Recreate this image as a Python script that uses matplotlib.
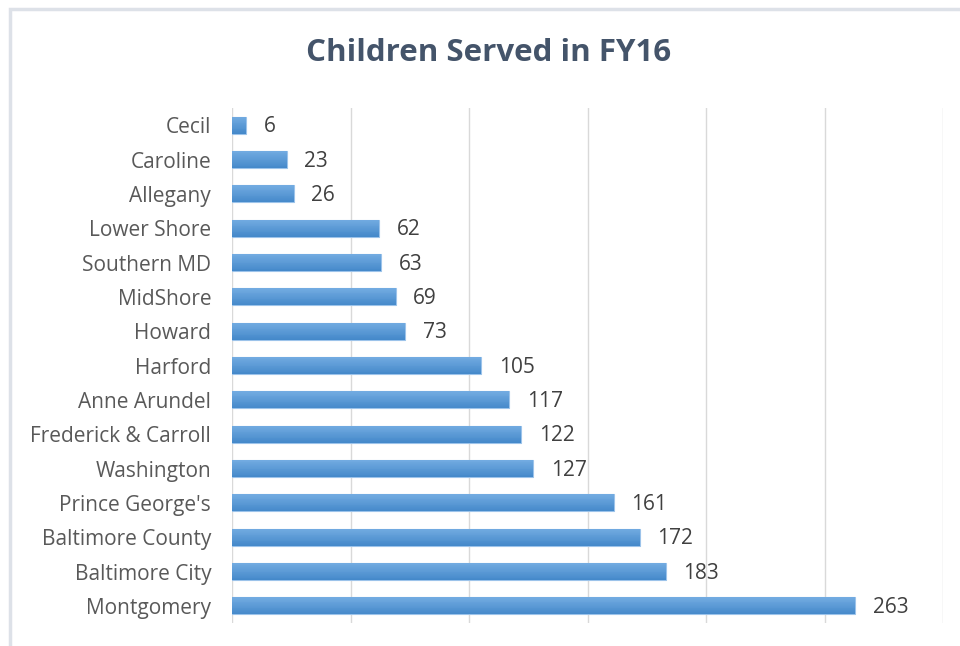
import numpy as np
import matplotlib
matplotlib.use('Agg')
import matplotlib.pyplot as plt
from matplotlib.patches import Rectangle
from matplotlib.colors import LinearSegmentedColormap

regions = ['Cecil', 'Caroline', 'Allegany', 'Lower Shore', 'Southern MD', 'MidShore',
           'Howard', 'Harford', 'Anne Arundel', 'Frederick & Carroll', 'Washington',
           "Prince George's", 'Baltimore County', 'Baltimore City', 'Montgomery']
children = [6, 23, 26, 62, 63, 69, 73, 105, 117, 122, 127, 161, 172, 183, 263]

plt.rcParams['font.family'] = ['Open Sans', 'DejaVu Sans']

fig = plt.figure(figsize=(9.6, 6.46), dpi=100)
ax = fig.add_axes([232/960, 1-623/646, (943-232)/960, (623-108)/646])

# outer frame of the chart
fig.patches.append(Rectangle((10/960, -0.1), 1.2, 1 - 9/646 + 0.1, transform=fig.transFigure,
                             fill=False, edgecolor='#dde1e8', linewidth=2.5))

y = np.arange(len(regions))
bars = ax.barh(y, children, height=0.5, color='#5b9bd5', edgecolor='#9cc3ea', linewidth=0.8, zorder=3)

# gradient: lighter at the top edge, darker at the bottom edge
grad = LinearSegmentedColormap.from_list('g', ['#4589ca', '#72abe1'])
n = 20
for b in bars:
    x0, y0, h = b.get_x(), b.get_y(), b.get_height()
    yedges = np.linspace(y0, y0 + h, n + 1)
    C = np.linspace(1, 0, n).reshape(-1, 1)
    pm = ax.pcolormesh([x0, x0 + b.get_width()], yedges, C, cmap=grad, vmin=0, vmax=1,
                       zorder=3.5, shading='flat')
    pm.set_clip_path(b)

for yi, v in zip(y, children):
    ax.text(v + 7.5, yi + 0.05, str(v), va='center', ha='left', fontsize=15, color='#404040')

ax.set_yticks(y)
ax.set_yticklabels(regions, fontsize=15, color='#595959')
ax.set_ylim(len(regions) - 0.5, -0.5)
ax.set_xlim(0, 300)
ax.set_xticks(np.arange(0, 301, 50))
ax.set_xticklabels([])
ax.tick_params(length=0, pad=15)
ax.grid(axis='x', color='#d9d9d9', linewidth=1, zorder=0)
for s in ax.spines.values():
    s.set_visible(False)

fig.text(489/960, 1-53/646, 'Children Served in FY16', ha='center', va='center',
         fontsize=22.5, fontweight='bold', color='#44546a')

plt.savefig('out.png', dpi=100)
